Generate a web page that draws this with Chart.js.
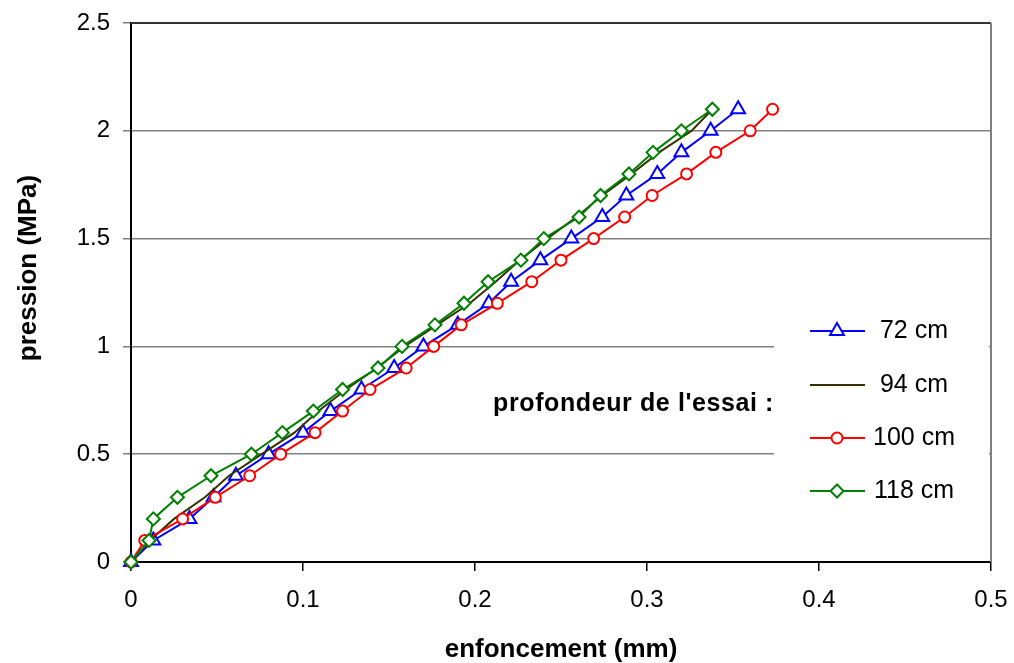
<!DOCTYPE html>
<html>
<head>
<meta charset="utf-8">
<title>enfoncement / pression</title>
<script src="https://cdn.jsdelivr.net/npm/chart.js@4/dist/chart.umd.min.js"></script>
<style>
  html, body { margin: 0; padding: 0; background: #fff; }
  canvas { display: block; }
</style>
</head>
<body>
<canvas id="essai" width="1014" height="663"></canvas>
<script>
// pression (MPa), same steps for every depth
const pression = [0, 0.1, 0.2, 0.3, 0.4, 0.5, 0.6, 0.7, 0.8, 0.9, 1.0,
  1.1, 1.2, 1.3, 1.4, 1.5, 1.6, 1.7, 1.8, 1.9, 2.0, 2.1];

// enfoncement (mm) read for each depth
const enf72 = [0, 0.013, 0.034, 0.048, 0.061, 0.080, 0.100, 0.116, 0.134, 0.153, 0.170,
  0.190, 0.208, 0.221, 0.238, 0.256, 0.274, 0.288, 0.306, 0.320, 0.337, 0.353];
const enf94 = [0, 0.011, 0.025, 0.043, 0.057, 0.076, 0.095, 0.109, 0.125, 0.143, 0.159,
  0.178, 0.197, 0.212, 0.226, 0.242, 0.259, 0.274, 0.291, 0.307, 0.326, 0.338];
const enf100 = [0, 0.008, 0.030, 0.049, 0.069, 0.087, 0.107, 0.123, 0.139, 0.160, 0.176,
  0.192, 0.213, 0.233, 0.250, 0.269, 0.287, 0.303, 0.323, 0.340, 0.360, 0.373];
const enf118 = [0, 0.0105, 0.013, 0.027, 0.0465, 0.070, 0.088, 0.106, 0.123, 0.1436, 0.1576,
  0.1767, 0.1936, 0.2076, 0.2267, 0.240, 0.2605, 0.273, 0.2895, 0.3035, 0.320, 0.338];

const depthLabels = ['72 cm', '94 cm', '100 cm', '118 cm'];
const xTicks = [0, 0.1, 0.2, 0.3, 0.4, 0.5];
const xTickLabels = ['0', '0.1', '0.2', '0.3', '0.4', '0.5'];
const yTicks = [0, 0.5, 1, 1.5, 2, 2.5];
const yTickLabels = ['0', '0.5', '1', '1.5', '2', '2.5'];

const FONT = "'Liberation Sans', Arial, sans-serif";

function toPoints(xs) {
  return xs.map((x, i) => ({ x: x, y: pression[i] }));
}

const series = [
  { label: depthLabels[0], data: enf72, color: '#0000ff', style: 'triangle', r: 8 },
  { label: depthLabels[1], data: enf94, color: '#333300', style: false, r: 0 },
  { label: depthLabels[2], data: enf100, color: '#ff0000', style: 'circle', r: 5.5 },
  { label: depthLabels[3], data: enf118, color: '#008000', style: 'rectRot', r: 6.5 }
];

const datasets = series.map((s, i) => ({
  label: s.label,
  data: toPoints(s.data),
  showLine: true,
  borderColor: s.color,
  borderWidth: 2,
  backgroundColor: '#ffffff',
  pointStyle: s.style || 'circle',
  pointRadius: s.r,
  pointBorderWidth: 2,
  pointBorderColor: s.color,
  pointBackgroundColor: '#ffffff',
  clip: false,
  order: series.length - i
}));

// frame, legend box and the y title
const decor = {
  id: 'decor',
  afterDatasetsDraw(chart) {
    const ctx = chart.ctx;
    const a = chart.chartArea;
    ctx.save();
    // top and right edge of the plot
    ctx.strokeStyle = '#333333';
    ctx.lineWidth = 2;
    ctx.beginPath();
    ctx.moveTo(a.left, a.top);
    ctx.lineTo(a.right, a.top);
    ctx.stroke();
    // legend box hides the grid lines
    ctx.fillStyle = '#ffffff';
    ctx.fillRect(774, 300, a.right - 776, 220);
    ctx.strokeStyle = '#808080';
    ctx.beginPath();
    ctx.moveTo(a.right, a.top);
    ctx.lineTo(a.right, a.bottom);
    ctx.stroke();

    const rows = [331, 385, 438, 491];
    series.forEach((s, i) => {
      const y = rows[i];
      ctx.strokeStyle = s.color;
      ctx.lineWidth = 2;
      ctx.beginPath();
      ctx.moveTo(810, y);
      ctx.lineTo(865, y);
      ctx.stroke();
      if (s.style && Chart.helpers && Chart.helpers.drawPoint) {
        ctx.fillStyle = '#ffffff';
        Chart.helpers.drawPoint(ctx, { pointStyle: s.style, radius: s.r, borderWidth: 2, rotation: 0 }, 837, y);
      }
      ctx.fillStyle = '#000000';
      ctx.font = '25px ' + FONT;
      ctx.textAlign = 'center';
      ctx.textBaseline = 'middle';
      ctx.fillText(s.label, 914, y);
    });

    ctx.font = 'bold 25px ' + FONT;
    ctx.textAlign = 'right';
    ctx.textBaseline = 'middle';
    ctx.fillStyle = '#000000';
    ctx.letterSpacing = '0.6px';
    ctx.fillText("profondeur de l'essai :", 774, 404);

    // y title sits a bit above the middle of the axis
    ctx.font = 'bold 26px ' + FONT;
    ctx.letterSpacing = '0px';
    ctx.translate(29, 268);
    ctx.rotate(-Math.PI / 2);
    ctx.textAlign = 'center';
    ctx.fillText('pression (MPa)', 0, 0);
    ctx.restore();
  }
};

const chart = new Chart(document.getElementById('essai'), {
  type: 'scatter',
  data: { datasets: datasets },
  options: {
    responsive: false,
    animation: false,
    layout: { padding: { top: 23, right: 23, left: 0, bottom: 0 } },
    plugins: { legend: { display: false }, tooltip: { enabled: false } },
    scales: {
      x: {
        type: 'linear',
        min: 0,
        max: 0.5,
        afterBuildTicks: (scale) => { scale.ticks = xTicks.map(v => ({ value: v })); },
        afterFit: (scale) => {
          scale.height = 101;
          scale.paddingLeft = 0;
          scale.paddingRight = 0;
        },
        ticks: {
          color: '#000',
          padding: 15,
          font: { family: FONT, size: 24 },
          callback: (v) => xTickLabels[xTicks.indexOf(v)]
        },
        grid: { drawOnChartArea: false, color: '#000', tickLength: 9, lineWidth: 1.5 },
        border: { color: '#000', width: 2 },
        title: {
          display: true,
          text: 'enfoncement (mm)',
          color: '#000',
          padding: 0,
          font: { family: FONT, size: 26, weight: 'bold', lineHeight: 1.0 }
        }
      },
      y: {
        min: 0,
        max: 2.5,
        afterBuildTicks: (scale) => { scale.ticks = yTicks.map(v => ({ value: v })); },
        afterFit: (scale) => {
          scale.width = 131;
          scale.paddingTop = 0;
          scale.paddingBottom = 0;
        },
        ticks: {
          color: '#000',
          padding: 13,
          font: { family: FONT, size: 24 },
          callback: (v) => yTickLabels[yTicks.indexOf(v)]
        },
        grid: { color: '#808080', tickLength: 8, lineWidth: 1.5 },
        border: { color: '#000', width: 2 }
      }
    }
  },
  plugins: [decor]
});
</script>
</body>
</html>
